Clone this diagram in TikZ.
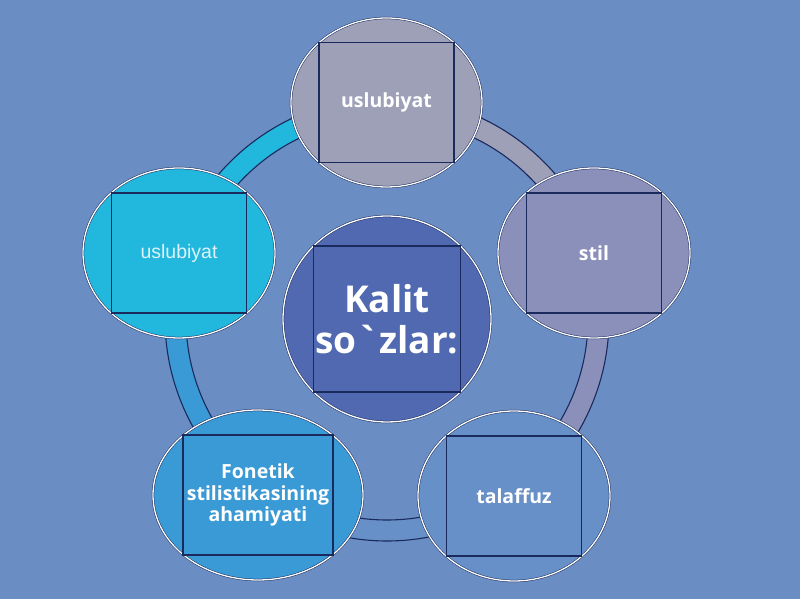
\documentclass[tikz,border=0pt]{standalone}
\usepackage{fontspec}
\setmainfont{Open Sans}
\newfontfamily\arialfont{Liberation Sans}
\newfontfamily\graveface[Ligatures=TeXOff]{Open Sans}
\usetikzlibrary{shapes.geometric}
\definecolor{bg}{HTML}{6A8EC4}
\definecolor{navy}{HTML}{1A2A5C}
\definecolor{topc}{HTML}{9EA0B8}
\definecolor{rightc}{HTML}{8A90BA}
\definecolor{brc}{HTML}{6890C8}
\definecolor{blc}{HTML}{3A9AD6}
\definecolor{leftc}{HTML}{22B8DE}
\definecolor{centc}{HTML}{5069B1}
\definecolor{lefttext}{HTML}{DDF3FA}
\newcommand\ringseg[3]{%
  \filldraw[fill=#3, draw=navy, line width=1.1pt]
    ([shift={(#1:222)}]C) arc[start angle=#1, end angle=#2, radius=222]
    -- ([shift={(#2:201)}]C) arc[start angle=#2, end angle=#1, radius=201] -- cycle;}
\begin{document}
\begin{tikzpicture}[x=1pt,y=1pt,
  circ/.style={ellipse, draw=navy, line width=0.5pt, double=white, double distance=1.3pt, inner sep=0pt},
  sqbox/.style={rectangle, draw=navy, line width=1.1pt, inner sep=0pt, align=center, text=white},
  lbl/.style={font=\bfseries\fontsize{19.5}{21.5}\selectfont}]
\fill[bg] (0,0) rectangle (800,599);
\useasboundingbox (0,0) rectangle (800,599);
\coordinate (C) at (387,280);
\ringseg{90}{162}{leftc}
\ringseg{162}{234}{blc}
\ringseg{234}{306}{brc}
\ringseg{306}{378}{rightc}
\ringseg{18}{90}{topc}
% top
\node[circ, fill=topc, minimum width=191pt, minimum height=169pt] (top) at (386.5,496.5) {};
\node[sqbox, minimum width=135pt, minimum height=119.5pt, lbl] (topbox) at (top.center) {uslubiyat};
% left
\node[circ, fill=leftc, minimum width=192pt, minimum height=170pt] (left) at (179,346) {};
\node[sqbox, minimum width=135.5pt, minimum height=120pt, text=lefttext, font=\arialfont\fontsize{19.5}{23}\selectfont] (leftbox) at (left.center) {uslubiyat};
% right
\node[circ, fill=rightc, minimum width=192pt, minimum height=170pt] (right) at (594,346) {};
\node[sqbox, minimum width=135.5pt, minimum height=120pt, lbl] (rightbox) at (right.center) {stil};
% bottom left
\node[circ, fill=blc, minimum width=210pt, minimum height=170pt] (bl) at (258,104) {};
\node[sqbox, minimum width=150pt, minimum height=120pt, lbl] (blbox) at (bl.center) {Fonetik\\stilistikasining\\ahamiyati};
% bottom right
\node[circ, fill=brc, minimum width=192pt, minimum height=170pt] (br) at (514,103) {};
\node[sqbox, minimum width=135.5pt, minimum height=120pt, lbl] (brbox) at (br.center) {talaffuz};
% center
\node[circ, fill=centc, minimum width=208pt, minimum height=206pt] (cent) at (C) {};
\node[sqbox, minimum width=147pt, minimum height=146pt, font=\bfseries\fontsize{37}{41}\selectfont] (centbox) at (cent.center) {Kalit\\so{\graveface\symbol{96}}zlar:};
\end{tikzpicture}
\end{document}
